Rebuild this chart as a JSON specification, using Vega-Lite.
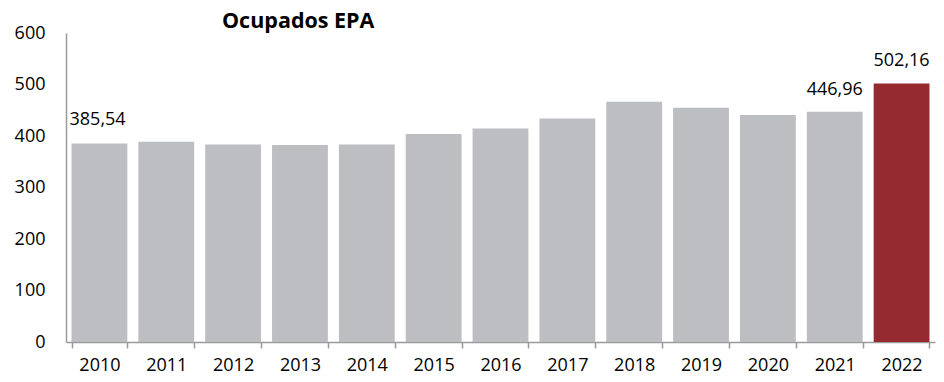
{
  "$schema": "https://vega.github.io/schema/vega-lite/v6.json",
  "autosize": "none",
  "width": 869,
  "height": 309,
  "padding": {"left": 66, "top": 33, "right": 9, "bottom": 40},
  "background": "white",
  "config": {
    "view": {"stroke": null},
    "font": "Open Sans"
  },
  "title": {
    "text": "Ocupados EPA",
    "font": "Open Sans",
    "fontSize": 21.5,
    "fontWeight": "bold",
    "color": "#000000",
    "anchor": "start",
    "frame": "group",
    "baseline": "alphabetic",
    "dx": 156,
    "dy": 30,
    "offset": 5
  },
  "data": {
    "values": [
      {"year": "2010", "value": 385.54, "label": "385,54", "highlight": "no", "pos": "left"},
      {"year": "2011", "value": 389.0, "label": "", "highlight": "no", "pos": "none"},
      {"year": "2012", "value": 383.7, "label": "", "highlight": "no", "pos": "none"},
      {"year": "2013", "value": 382.6, "label": "", "highlight": "no", "pos": "none"},
      {"year": "2014", "value": 383.7, "label": "", "highlight": "no", "pos": "none"},
      {"year": "2015", "value": 403.9, "label": "", "highlight": "no", "pos": "none"},
      {"year": "2016", "value": 414.7, "label": "", "highlight": "no", "pos": "none"},
      {"year": "2017", "value": 434.1, "label": "", "highlight": "no", "pos": "none"},
      {"year": "2018", "value": 466.5, "label": "", "highlight": "no", "pos": "none"},
      {"year": "2019", "value": 454.8, "label": "", "highlight": "no", "pos": "none"},
      {"year": "2020", "value": 440.7, "label": "", "highlight": "no", "pos": "none"},
      {"year": "2021", "value": 446.96, "label": "446,96", "highlight": "no", "pos": "center"},
      {"year": "2022", "value": 502.16, "label": "502,16", "highlight": "yes", "pos": "center"}
    ]
  },
  "encoding": {
    "x": {
      "field": "year",
      "type": "ordinal",
      "scale": {"paddingInner": 0.165, "paddingOuter": 0.0825},
      "axis": {
        "title": null,
        "labelAngle": 0,
        "labelFont": "Open Sans",
        "labelFontSize": 18,
        "labelColor": "#000000",
        "labelPadding": 8,
        "tickBand": "extent",
        "tickSize": 6,
        "tickColor": "#9a9a9a",
        "tickWidth": 1.5,
        "domainColor": "#9a9a9a",
        "domainWidth": 1.5
      }
    },
    "y": {
      "field": "value",
      "type": "quantitative",
      "scale": {"domain": [0, 600], "nice": false},
      "axis": {
        "title": null,
        "values": [0, 100, 200, 300, 400, 500, 600],
        "grid": false,
        "ticks": false,
        "labelFont": "Open Sans",
        "labelFontSize": 18,
        "labelColor": "#000000",
        "labelPadding": 21,
        "domainColor": "#9a9a9a",
        "domainWidth": 1.5
      }
    }
  },
  "layer": [
    {
      "mark": {"type": "bar"},
      "encoding": {
        "color": {
          "field": "highlight",
          "type": "nominal",
          "scale": {"domain": ["no", "yes"], "range": ["#BDBEC1", "#962A31"]},
          "legend": null
        }
      }
    },
    {
      "transform": [{"filter": "datum.pos === 'left'"}],
      "mark": {"type": "text", "align": "left", "baseline": "alphabetic", "dx": -2, "dy": -18, "fontSize": 18, "font": "Open Sans", "color": "#000000"},
      "encoding": {
        "x": {"field": "year", "type": "ordinal", "bandPosition": 0},
        "text": {"field": "label"}
      }
    },
    {
      "transform": [{"filter": "datum.pos === 'center'"}],
      "mark": {"type": "text", "align": "center", "baseline": "alphabetic", "dy": -17, "fontSize": 18, "font": "Open Sans", "color": "#000000"},
      "encoding": {
        "text": {"field": "label"}
      }
    }
  ]
}
